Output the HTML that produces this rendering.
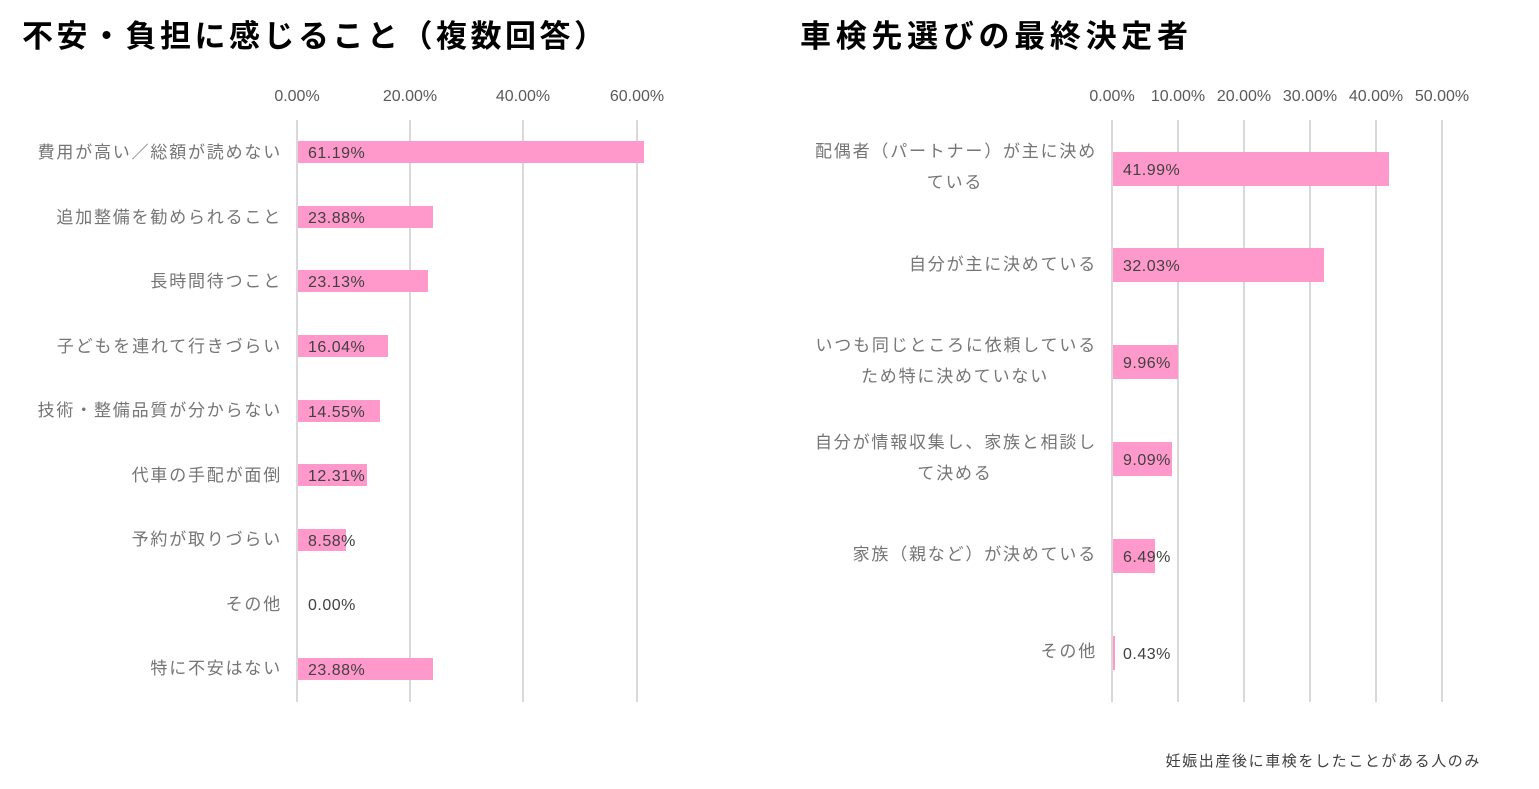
<!DOCTYPE html>
<html><head><meta charset="utf-8"><style>
body{margin:0;background:#fff;}
svg{display:block;font-family:"Liberation Sans","Noto Sans CJK JP",sans-serif;}
.t{font-weight:bold;font-size:31px;fill:#000;letter-spacing:3.5px;}
.tk{font-size:16px;fill:#595959;}
.lb{font-size:17px;fill:#757575;letter-spacing:1.8px;}
.dl{font-size:16px;fill:#404040;letter-spacing:0.5px;}
.g{stroke:#d9d9d9;stroke-width:2;}
.b{fill:#ff99cc;}
</style></head><body>
<svg width="1539" height="789" viewBox="0 0 1539 789">
<text class="t" x="22" y="47">不安・負担に感じること（複数回答）</text>
<text class="t" x="800" y="47" style="letter-spacing:4.7px">車検先選びの最終決定者</text>
<g text-anchor="middle" class="tk">
<text x="297" y="101">0.00%</text><text x="410" y="101">20.00%</text><text x="523" y="101">40.00%</text><text x="637" y="101">60.00%</text>
<text x="1112" y="101">0.00%</text><text x="1178" y="101">10.00%</text><text x="1244" y="101">20.00%</text><text x="1310" y="101">30.00%</text><text x="1376" y="101">40.00%</text><text x="1442" y="101">50.00%</text>
</g>
<g class="g">
<line x1="297" y1="120" x2="297" y2="702"/><line x1="410" y1="120" x2="410" y2="702"/><line x1="523" y1="120" x2="523" y2="702"/><line x1="637" y1="120" x2="637" y2="702"/>
<line x1="1112" y1="120" x2="1112" y2="702"/><line x1="1178" y1="120" x2="1178" y2="702"/><line x1="1244" y1="120" x2="1244" y2="702"/><line x1="1310" y1="120" x2="1310" y2="702"/><line x1="1376" y1="120" x2="1376" y2="702"/><line x1="1442" y1="120" x2="1442" y2="702"/>
</g>
<g class="b">
<rect x="298" y="141" width="346" height="22"/>
<rect x="298" y="206" width="135" height="22"/>
<rect x="298" y="270" width="130" height="22"/>
<rect x="298" y="335" width="90" height="22"/>
<rect x="298" y="400" width="82" height="22"/>
<rect x="298" y="464" width="69" height="22"/>
<rect x="298" y="529" width="48" height="22"/>
<rect x="298" y="658" width="135" height="22"/>
<rect x="1113" y="152" width="276" height="34"/>
<rect x="1113" y="248" width="211" height="34"/>
<rect x="1113" y="345" width="65" height="34"/>
<rect x="1113" y="442" width="59" height="34"/>
<rect x="1113" y="539" width="42" height="34"/>
<rect x="1113" y="636" width="2" height="34"/>
</g>
<g class="lb" text-anchor="end">
<text x="282" y="158">費用が高い／総額が読めない</text>
<text x="282" y="223">追加整備を勧められること</text>
<text x="282" y="287">長時間待つこと</text>
<text x="282" y="352">子どもを連れて行きづらい</text>
<text x="282" y="416">技術・整備品質が分からない</text>
<text x="282" y="481">代車の手配が面倒</text>
<text x="282" y="545">予約が取りづらい</text>
<text x="282" y="610">その他</text>
<text x="282" y="674">特に不安はない</text>
<text x="1097" y="157">配偶者（パートナー）が主に決め</text>
<text x="955" y="188" text-anchor="middle">ている</text>
<text x="1097" y="270">自分が主に決めている</text>
<text x="1097" y="351">いつも同じところに依頼している</text>
<text x="955" y="382" text-anchor="middle">ため特に決めていない</text>
<text x="1097" y="448">自分が情報収集し、家族と相談し</text>
<text x="955" y="479" text-anchor="middle">て決める</text>
<text x="1097" y="560">家族（親など）が決めている</text>
<text x="1097" y="657">その他</text>
</g>
<g class="dl">
<text x="308" y="158">61.19%</text><text x="308" y="223">23.88%</text><text x="308" y="287">23.13%</text><text x="308" y="352">16.04%</text><text x="308" y="417">14.55%</text><text x="308" y="481">12.31%</text><text x="308" y="546">8.58%</text><text x="308" y="610">0.00%</text><text x="308" y="675">23.88%</text>
<text x="1123" y="175">41.99%</text><text x="1123" y="271">32.03%</text><text x="1123" y="368">9.96%</text><text x="1123" y="465">9.09%</text><text x="1123" y="562">6.49%</text><text x="1123" y="659">0.43%</text>
</g>
<text x="1481" y="766" text-anchor="end" style="font-size:15px;fill:#404040;letter-spacing:1.6px">妊娠出産後に車検をしたことがある人のみ</text>
</svg>
</body></html>
